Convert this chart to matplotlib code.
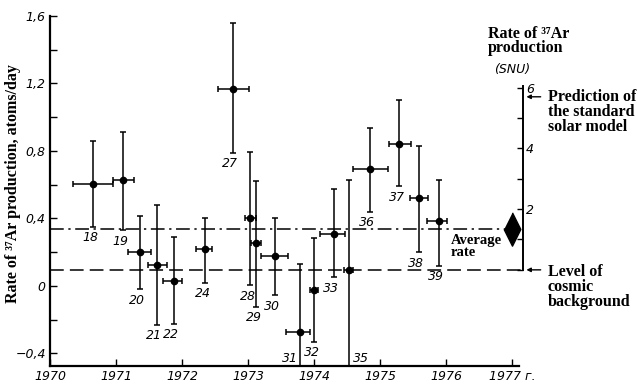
import matplotlib
matplotlib.use("Agg")
import matplotlib.pyplot as plt

# run numbers and measured 37Ar production rates (atoms/day)
runs = [18, 19, 20, 21, 22, 24, 27, 28, 29, 30, 31, 32, 33, 35, 36, 37, 38, 39]
t_mid = [1970.65, 1971.11, 1971.36, 1971.62, 1971.87, 1972.35, 1972.77, 1973.03, 1973.12,
         1973.40, 1973.78, 1974.00, 1974.30, 1974.52, 1974.84, 1975.29, 1975.58, 1975.89]
t_start = [1970.35, 1970.95, 1971.18, 1971.49, 1971.71, 1972.21, 1972.54, 1972.95, 1973.05,
           1973.20, 1973.57, 1973.94, 1974.09, 1974.45, 1974.59, 1975.13, 1975.45, 1975.71]
t_end = [1970.95, 1971.27, 1971.53, 1971.77, 1972.00, 1972.46, 1973.01, 1973.12, 1973.20,
         1973.60, 1973.94, 1974.06, 1974.46, 1974.58, 1975.12, 1975.47, 1975.72, 1976.01]
rate = [0.605, 0.63, 0.20, 0.125, 0.03, 0.22, 1.17, 0.40, 0.255, 0.175, -0.275, -0.025,
        0.31, 0.095, 0.69, 0.84, 0.52, 0.385]
rate_hi = [0.86, 0.915, 0.415, 0.48, 0.29, 0.40, 1.56, 0.795, 0.62, 0.40, 0.13, 0.285,
           0.575, 0.63, 0.935, 1.10, 0.83, 0.63]
rate_lo = [0.35, 0.33, -0.02, -0.23, -0.225, 0.02, 0.79, 0.005, -0.125, -0.055, -0.60, -0.33,
           0.05, -0.60, 0.44, 0.59, 0.20, 0.12]

average_rate = 0.335
background = 0.095
snu_per_unit = 0.18      # atoms/day per SNU
prediction_snu = 5.7

year_ticks = [1970, 1971, 1972, 1973, 1974, 1975, 1976, 1977]
year_labels = ["1970", "1971", "1972", "1973", "1974", "1975", "1976", "1977 г."]
y_ticks = [1.6, 1.4, 1.2, 1.0, 0.8, 0.6, 0.4, 0.2, 0.0, -0.2, -0.4]
y_labels = ["1,6", "", "1,2", "", "0,8", "", "0,4", "", "0", "", "−0,4"]
snu_ticks = [0, 1, 2, 3, 4, 5, 6]
snu_labels = ["", "", "2", "", "4", "", "6"]

serif = ["Liberation Serif", "DejaVu Serif"]
bold = dict(family=serif, fontweight="bold", fontsize=11.5, linespacing=0.9)
ital = dict(family="DejaVu Sans", style="italic", fontsize=9)

fig = plt.figure(figsize=(6.38, 3.89), dpi=100)
ax = fig.add_axes([50 / 638, 1 - 366 / 389, 469 / 638, 350 / 389])
ax.set_xlim(1970, 1977.1)
ax.set_ylim(-0.475, 1.6)

xerr = [[m - s for m, s in zip(t_mid, t_start)], [e - m for m, e in zip(t_mid, t_end)]]
yerr = [[r - l for r, l in zip(rate, rate_lo)], [h - r for r, h in zip(rate, rate_hi)]]
ax.errorbar(t_mid, rate, xerr=xerr, yerr=yerr, fmt="o", color="black", ms=4.5,
            elinewidth=1.1, capsize=2.5, capthick=1.1)

for n, x, lo in zip(runs, t_mid, rate_lo):
    if lo < -0.475:
        dx = -0.27 if n == 31 else 0.06
        ax.text(x + dx, -0.43, str(n), ha="left", va="center", **ital)
    else:
        ax.text(x - 0.04, lo - 0.065, str(n), ha="center", va="center", **ital)

ax.plot([1970, 1976.93], [average_rate, average_rate], color="black", lw=1.1,
        ls=(0, (9, 3, 1.5, 3)))
ax.plot([1970, 1977.16], [background, background], color="black", lw=1.1,
        ls=(0, (9, 4)), clip_on=False)
ax.plot([1977.0], [average_rate], marker=[(0, 1), (0.5, 0), (0, -1), (-0.5, 0)],
        ms=24, color="black", clip_on=False)

ax.text(1976.07, 0.235, "Average\nrate", va="center", family=serif, fontweight="bold",
        fontsize=10.5, linespacing=0.9)

for side in ["top", "right"]:
    ax.spines[side].set_visible(False)
ax.spines["left"].set_linewidth(1.6)
ax.spines["bottom"].set_linewidth(1.6)
ax.set_xticks(year_ticks)
ax.set_xticklabels(year_labels, style="italic", fontsize=9)
ax.set_yticks(y_ticks)
ax.set_yticklabels(y_labels, style="italic", fontsize=9)
ax.tick_params(direction="in", length=5, width=1, pad=3)

# SNU axis on the right
ax2 = ax.twinx()
lo_v, hi_v = ax.get_ylim()
ax2.set_ylim((lo_v - background) / snu_per_unit, (hi_v - background) / snu_per_unit)
for side in ["top", "left", "bottom"]:
    ax2.spines[side].set_visible(False)
ax2.spines["right"].set_position(("axes", 1.0085))
ax2.spines["right"].set_bounds(0, 6.05)
ax2.spines["right"].set_linewidth(1.4)
ax2.set_yticks(snu_ticks)
ax2.set_yticklabels(snu_labels, style="italic", fontsize=9)
ax2.tick_params(direction="in", length=4, width=1, pad=2)

ax2.annotate("", xy=(1977.17, prediction_snu), xytext=(1977.47, prediction_snu),
             annotation_clip=False,
             arrowprops=dict(arrowstyle="-|>", color="black", lw=1, mutation_scale=6))
ax2.annotate("", xy=(1977.17, 0), xytext=(1977.47, 0), annotation_clip=False,
             arrowprops=dict(arrowstyle="-|>", color="black", lw=1, mutation_scale=6))
ax2.set_xlim(ax.get_xlim())

fig.text(548 / 638, 1 - 112 / 389, "Prediction of\nthe standard\nsolar model",
         va="center", **bold)
fig.text(548 / 638, 1 - 287 / 389, "Level of\ncosmic\nbackground", va="center", **bold)
fig.text(488 / 638, 1 - 41 / 389, "Rate of ³⁷Ar\nproduction", va="center", **bold)
fig.text(512 / 638, 1 - 69 / 389, "(SNU)", ha="center", va="center", **ital)
fig.text(13 / 638, 1 - 184 / 389, "Rate of ³⁷Ar production, atoms/day", family=serif,
         fontweight="bold", fontsize=11.5, rotation=90, ha="center", va="center")

fig.savefig("out.png", dpi=100)
